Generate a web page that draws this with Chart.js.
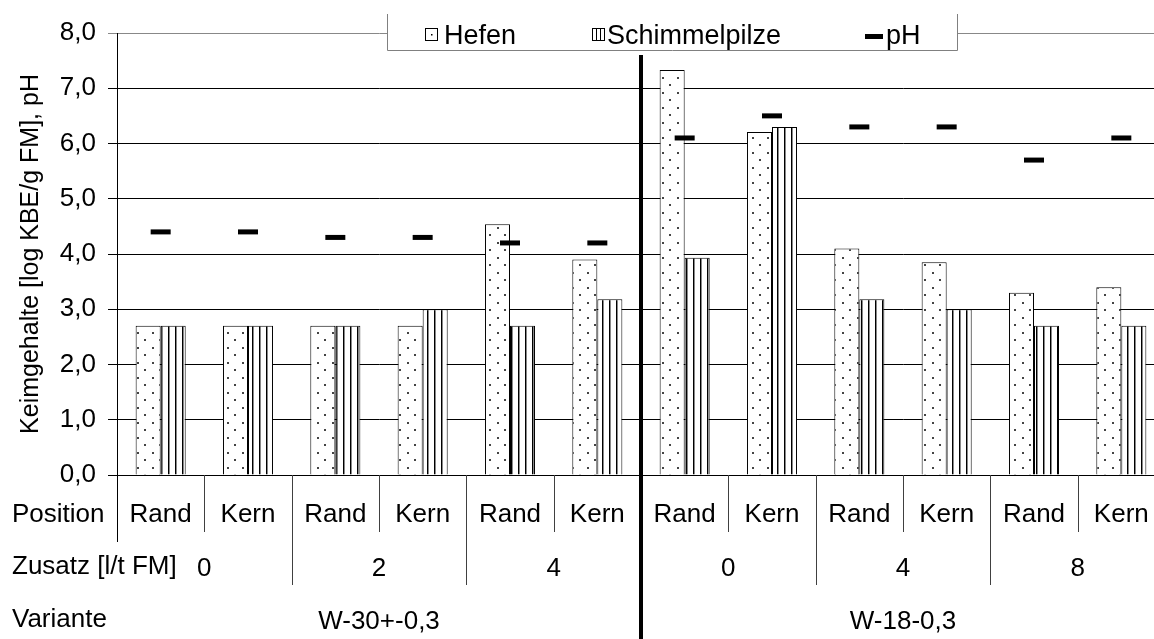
<!DOCTYPE html>
<html>
<head>
<meta charset="utf-8">
<script src="https://cdn.jsdelivr.net/npm/chart.js@4/dist/chart.umd.min.js"></script>
<style>
  html, body { margin: 0; padding: 0; background: #fff; overflow: hidden; }
  #wrap { width: 1165px; height: 639px; }
</style>
</head>
<body>
<div id="wrap"><canvas id="myChart" width="1165" height="639"></canvas></div>
<script>
// data block
const positions = ['Rand', 'Kern', 'Rand', 'Kern', 'Rand', 'Kern', 'Rand', 'Kern', 'Rand', 'Kern', 'Rand', 'Kern'];
const zusatz = ['0', '2', '4', '0', '4', '8'];
const varianten = ['W-30+-0,3', 'W-18-0,3'];

const hefen = [2.7, 2.7, 2.7, 2.7, 4.54, 3.9, 7.33, 6.21, 4.1, 3.85, 3.3, 3.4];
const schimmel = [2.7, 2.7, 2.7, 3.0, 2.7, 3.18, 3.93, 6.3, 3.18, 3.0, 2.7, 2.7];
const ph = [4.4, 4.4, 4.3, 4.3, 4.2, 4.2, 6.1, 6.5, 6.3, 6.3, 5.7, 6.1];

const yTicks = [0, 1, 2, 3, 4, 5, 6, 7, 8];

const FONT = "'Liberation Sans', Arial, sans-serif";

// patterns
function dotPattern() {
    const c = document.createElement('canvas');
    c.width = 15; c.height = 15;
    const g = c.getContext('2d');
    g.fillStyle = '#fff';
    g.fillRect(0, 0, 15, 15);
    g.fillStyle = '#444';
    g.fillRect(2, 2, 2, 2);
    g.fillRect(9, 9, 2, 2);
    return g.createPattern(c, 'repeat');
}
function stripePattern() {
    const c = document.createElement('canvas');
    c.width = 7; c.height = 4;
    const g = c.getContext('2d');
    g.fillStyle = '#fff';
    g.fillRect(0, 0, 7, 4);
    g.fillStyle = '#000';
    g.fillRect(0, 0, 1, 4);
    g.fillStyle = '#888';
    g.fillRect(1, 0, 1, 4);
    return g.createPattern(c, 'repeat');
}

// legend, thick separator and the table below the axis
const extras = {
    id: 'extras',
    afterDraw(chart) {
        const ctx = chart.ctx;
        const x = chart.scales.x;
        const y0 = chart.chartArea.bottom;
        const half = (x.getPixelForValue(1) - x.getPixelForValue(0)) / 2;
        const px = i => x.getPixelForValue(i);
        ctx.save();

        // dividers
        ctx.strokeStyle = '#404040';
        ctx.lineWidth = 1;
        for (let i = 1; i < positions.length; i++) {
            if (i === 6) continue;
            const bx = Math.round(px(i) - half) + 0.5;
            const len = (i % 2 === 0) ? 585 : 532;
            ctx.beginPath();
            ctx.moveTo(bx, y0);
            ctx.lineTo(bx, len);
            ctx.stroke();
        }
        // axis line continues down
        const ax = Math.round(chart.chartArea.left) + 0.5;
        ctx.strokeStyle = '#000';
        ctx.beginPath();
        ctx.moveTo(ax, y0);
        ctx.lineTo(ax, 542);
        ctx.stroke();

        // thick separator
        const sx = px(6) - half;
        ctx.fillStyle = '#000';
        ctx.fillRect(sx - 2, 55, 4, 639 - 55);

        // table text
        ctx.fillStyle = '#000';
        ctx.font = '26px ' + FONT;
        ctx.textBaseline = 'middle';
        ctx.textAlign = 'left';
        ctx.fillText('Position', 12, 515);
        ctx.fillText('Zusatz [l/t FM]', 12, 567);
        ctx.fillText('Variante', 12, 620);

        ctx.textAlign = 'center';
        positions.forEach((p, i) => ctx.fillText(p, px(i), 515));
        zusatz.forEach((z, k) => ctx.fillText(z, (px(2 * k) + px(2 * k + 1)) / 2, 569));
        varianten.forEach((v, k) => ctx.fillText(v, (px(6 * k) + px(6 * k + 5)) / 2, 622));

        // legend box
        ctx.fillStyle = '#fff';
        ctx.fillRect(387, 14, 571, 37);
        ctx.strokeStyle = '#808080';
        ctx.beginPath();
        ctx.moveTo(387.5, 14);
        ctx.lineTo(387.5, 50.5);
        ctx.lineTo(957.5, 50.5);
        ctx.lineTo(957.5, 14);
        ctx.stroke();

        // Hefen icon
        ctx.strokeStyle = '#000';
        ctx.strokeRect(425.5, 28.5, 12, 12);
        ctx.fillStyle = '#000';
        ctx.fillRect(431, 34, 1.5, 1.5);
        // Schimmelpilze icon
        ctx.strokeRect(592.5, 28.5, 12, 12);
        ctx.beginPath();
        ctx.moveTo(596.5, 28.5); ctx.lineTo(596.5, 40.5);
        ctx.moveTo(600.5, 28.5); ctx.lineTo(600.5, 40.5);
        ctx.stroke();
        // pH icon
        ctx.fillRect(865, 34, 18, 5);

        ctx.font = '27px ' + FONT;
        ctx.textAlign = 'left';
        ctx.textBaseline = 'alphabetic';
        ctx.fillText('Hefen', 444, 44);
        ctx.fillText('Schimmelpilze', 607, 44);
        ctx.fillText('pH', 886, 44);

        ctx.restore();
    }
};

const data = {
    labels: positions,
    datasets: [{
        type: 'line',
        label: 'pH',
        data: ph,
        showLine: false,
        pointStyle: 'line',
        pointRadius: 10,
        pointHoverRadius: 10,
        pointBorderWidth: 5,
        pointHoverBorderWidth: 5,
        borderColor: '#000',
        backgroundColor: '#000',
        order: 0
    }, {
        label: 'Hefen',
        data: hefen,
        backgroundColor: dotPattern(),
        borderColor: '#000',
        borderWidth: 1,
        order: 1
    }, {
        label: 'Schimmelpilze',
        data: schimmel,
        backgroundColor: stripePattern(),
        borderColor: '#000',
        borderWidth: 1,
        order: 1
    }]
};

const config = {
    type: 'bar',
    data: data,
    options: {
        responsive: false,
        animation: false,
        layout: { autoPadding: false, padding: { top: 33, bottom: 164, left: 0, right: 0 } },
        datasets: { bar: { categoryPercentage: 0.573, barPercentage: 1 } },
        plugins: { legend: { display: false }, tooltip: { enabled: false } },
        scales: {
            x: { display: false, offset: true },
            y: {
                min: 0,
                max: 8,
                afterFit(scale) { scale.width = 117; },
                afterBuildTicks(scale) { scale.ticks = yTicks.map(v => ({ value: v })); },
                ticks: {
                    color: '#000',
                    padding: 12,
                    font: { size: 26, family: FONT },
                    callback: v => v.toFixed(1).replace('.', ',')
                },
                grid: {
                    color: c => (c.tick && c.tick.value === 8) ? '#888' : '#000',
                    tickLength: 9
                },
                border: { color: '#000' },
                title: {
                    display: true,
                    text: 'Keimgehalte [log KBE/g FM], pH',
                    color: '#000',
                    font: { size: 25, family: FONT, lineHeight: 1.2 },
                    padding: { top: 16, bottom: 0 }
                }
            }
        }
    },
    plugins: [extras]
};

const myChart = new Chart(document.getElementById('myChart'), config);
</script>
</body>
</html>
